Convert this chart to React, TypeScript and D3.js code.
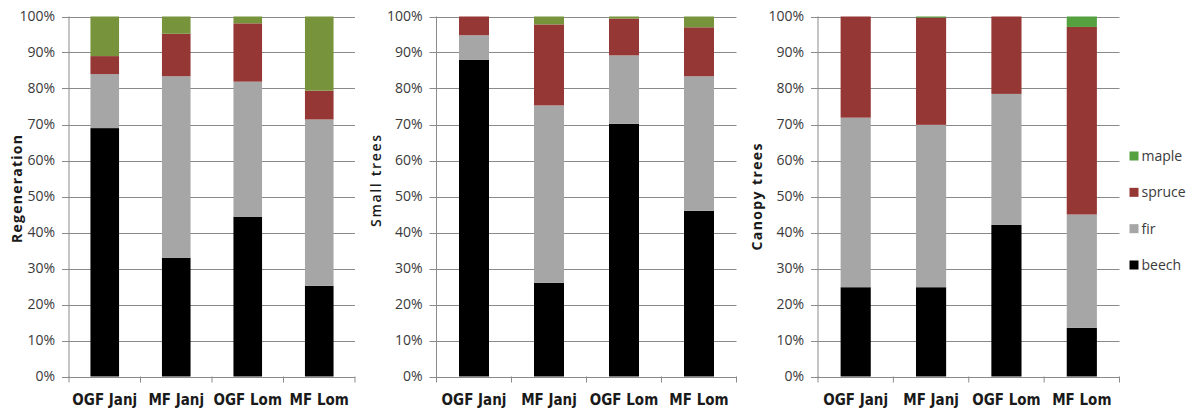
import React from "react"
import * as d3 from "d3"

const sites = ["OGF Janj", "MF Janj", "OGF Lom", "MF Lom"]
const species = ["beech", "fir", "spruce", "maple"]
const speciesColors = ["#000000", "#a6a6a6", "#953735", "#77933c"]
const legendOrder = ["maple", "spruce", "fir", "beech"]
const yTicks = [0, 10, 20, 30, 40, 50, 60, 70, 80, 90, 100]

// percentages per site, bottom to top
const regenBeech = [69, 33, 44.4, 25.2]
const regenFir = [15, 50.4, 37.5, 46.2]
const regenSpruce = [5, 11.8, 16.2, 8.0]
const regenMaple = [11, 4.8, 1.9, 20.6]

const smallBeech = [88, 26, 70.2, 46]
const smallFir = [6.8, 49.3, 19, 37.4]
const smallSpruce = [5.2, 22.5, 10.2, 13.6]
const smallMaple = [0, 2.2, 0.6, 3]

const canopyBeech = [24.8, 24.8, 42.1, 13.5]
const canopyFir = [47.1, 45.1, 36.4, 31.5]
const canopySpruce = [28.1, 29.8, 21.5, 52.1]
const canopyMaple = [0, 0.3, 0, 2.9]

const toRows = (b: number[], f: number[], s: number[], m: number[]) =>
    sites.map((site, i) => ({site, beech: b[i], fir: f[i], spruce: s[i], maple: m[i]}))

const panels = [
    {title: "Regeneration", rows: toRows(regenBeech, regenFir, regenSpruce, regenMaple),
        left: 69, right: 355, tx: 17, ty: 189, tlen: 108, bold: true, maple: "#77933c"},
    {title: "Small trees", rows: toRows(smallBeech, smallFir, smallSpruce, smallMaple),
        left: 436.5, right: 736.5, tx: 376, ty: 181, tlen: 92, bold: false, maple: "#77933c"},
    {title: "Canopy trees", rows: toRows(canopyBeech, canopyFir, canopySpruce, canopyMaple),
        left: 818, right: 1119.5, tx: 757.5, ty: 197, tlen: 107, bold: true, maple: "#55a03f"},
]

const top = 16.5
const bottom = 376.5
const gridColor = "#8a8a8a"
const textColor = "#3a3a3a"
const font = "'Open Sans', sans-serif"

const Panel = ({p}: {p: typeof panels[number]}) => {
    const x = d3.scaleBand().domain(sites).range([p.left, p.right]).paddingInner(0.6).paddingOuter(0.3)
    const y = d3.scaleLinear().domain([0, 100]).range([bottom, top])
    const color = d3.scaleOrdinal<string, string>().domain(species)
        .range([...speciesColors.slice(0, 3), p.maple])
    const series = d3.stack<any>().keys(species)(p.rows)
    const bounds = [p.left, ...sites.map(s => (x(s) as number) + x.bandwidth() / 0.4 * 0.7)]

    return (
        <g>
            {/* gridlines with outward ticks */}
            {yTicks.map(t => (
                <g key={t}>
                    <line x1={p.left - 7} x2={p.right} y1={Math.round(y(t)) + 0.5} y2={Math.round(y(t)) + 0.5}
                          stroke={gridColor} strokeWidth={1}/>
                    <text x={p.left - 14} y={y(t)} dy="0.35em" textAnchor="end" fontSize={14}
                          fontFamily={font} fill={textColor}>{t}%</text>
                </g>
            ))}
            <line x1={p.left} x2={p.left} y1={top} y2={bottom + 0.5} stroke={gridColor}/>
            {bounds.map((b, i) => (
                <line key={i} x1={b} x2={b} y1={bottom} y2={bottom + 6} stroke={gridColor}/>
            ))}
            {/* bars */}
            {series.map(s => (
                <g key={s.key} fill={color(s.key)}>
                    {s.map((d, i) => (
                        <rect key={i} x={x(sites[i])} width={x.bandwidth()}
                              y={y(d[1])} height={Math.max(0, y(d[0]) - y(d[1]))}/>
                    ))}
                </g>
            ))}
            {sites.map(s => (
                <text key={s} x={(x(s) as number) + x.bandwidth() / 2} y={405} textAnchor="middle"
                      fontSize={15} fontWeight="bold" fill="#1a1a1a"
                      fontFamily="'Liberation Sans Narrow', 'DejaVu Sans Condensed', sans-serif">{s}</text>
            ))}
            <text transform={`translate(${p.tx},${p.ty}) rotate(-90)`} textAnchor="middle" dy="0.35em"
                  fontSize={14} fontWeight={p.bold ? "bold" : "600"} fontFamily={font} fill="#1a1a1a"
                  textLength={p.tlen} lengthAdjust="spacing">{p.title}</text>
        </g>
    )
}

const App = () => {
    const legendY = d3.scalePoint().domain(legendOrder).range([156, 265])
    const legendColor = d3.scaleOrdinal<string, string>().domain(species)
        .range([...speciesColors.slice(0, 3), panels[2].maple])
    return (
        <svg width={1187} height={410} style={{position: "absolute", left: 0, top: 0, background: "#fff"}}>
            {panels.map(p => <Panel key={p.title} p={p}/>)}
            {legendOrder.map(k => (
                <g key={k} transform={`translate(1129.5,${legendY(k)})`}>
                    <rect x={0} y={-4.5} width={9} height={9} fill={legendColor(k)}/>
                    <text x={12} y={0} dy="0.35em" fontSize={14} fontFamily={font} fill={textColor}>{k}</text>
                </g>
            ))}
        </svg>
    )
}

export default App
